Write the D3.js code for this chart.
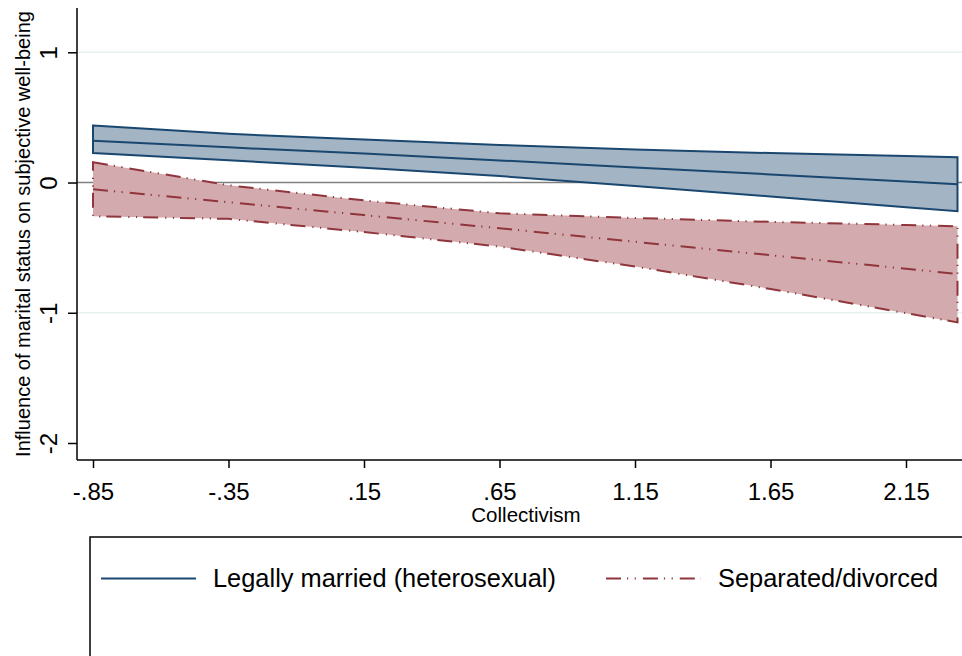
<!DOCTYPE html>
<html><head><meta charset="utf-8">
<script src="https://cdn.jsdelivr.net/npm/d3@7"></script>
<style>body{margin:0;background:#fff}svg{display:block;font-family:"Liberation Sans",Arial,sans-serif}</style>
</head><body>
<svg id="c" width="962" height="656"></svg>
<script>
// Collectivism values at which margins are read
const xs = [-0.85, -0.35, 0.15, 0.65, 1.15, 1.65, 2.15, 2.34];
// Legally married (heterosexual)
const marriedFit = [0.32, 0.27, 0.222, 0.17, 0.116, 0.062, 0.008, -0.013];
const marriedHi  = [0.438, 0.374, 0.331, 0.289, 0.254, 0.226, 0.203, 0.194];
const marriedLo  = [0.226, 0.171, 0.113, 0.05, -0.027, -0.107, -0.189, -0.22];
// Separated/divorced
const sepFit = [-0.052, -0.151, -0.25, -0.351, -0.455, -0.558, -0.662, -0.702];
const sepHi  = [0.156, -0.021, -0.137, -0.236, -0.272, -0.302, -0.326, -0.336];
const sepLo  = [-0.259, -0.279, -0.38, -0.492, -0.645, -0.817, -1.003, -1.074];

const xTicks = [-0.85, -0.35, 0.15, 0.65, 1.15, 1.65, 2.15];
const xTickLabels = ["-.85", "-.35", ".15", ".65", "1.15", "1.65", "2.15"];
const yTicks = [-2, -1, 0, 1];
const yTickLabels = ["-2", "-1", "0", "1"];
const seriesNames = ["Legally married (heterosexual)", "Separated/divorced"];

const svg = d3.select("#c");
const x = d3.scaleLinear().domain([-0.85, 2.15]).range([93, 906]);
const y = d3.scaleLinear().domain([-2, 1]).range([443, 52.3]);
const pLeft = 77, pBottom = 460, pTop = 8, pRight = 962;

const navy = "#1a476f", maroon = "#90353b";
const blueFill = "#a3b4c5", redFill = "#d3abae";
const dashDotDot = "15,6,1.2,6.5,1.2,7";

// gridlines
svg.append("g").selectAll("line").data([1, -1]).join("line")
  .attr("x1", pLeft).attr("x2", pRight).attr("y1", d => y(d)).attr("y2", d => y(d))
  .attr("stroke", "#e8f0f2").attr("stroke-width", 1.5);

// zero line
svg.append("line").attr("x1", pLeft).attr("x2", pRight).attr("y1", y(0)).attr("y2", y(0))
  .attr("stroke", "#808080").attr("stroke-width", 1.5);

function band(hi, lo) {
  const pts = xs.map((d, i) => [x(d), y(hi[i])]);
  const back = xs.map((d, i) => [x(d), y(lo[i])]).reverse();
  return d3.line()(pts.concat(back)) + "Z";
}
const line = (vals) => d3.line()(xs.map((d, i) => [x(d), y(vals[i])]));

// married band
svg.append("path").attr("d", band(marriedHi, marriedLo))
  .attr("fill", blueFill).attr("stroke", navy).attr("stroke-width", 2);
svg.append("path").attr("d", line(marriedFit)).attr("fill", "none")
  .attr("stroke", navy).attr("stroke-width", 2);

// separated band
svg.append("path").attr("d", band(sepHi, sepLo))
  .attr("fill", redFill).attr("stroke", maroon).attr("stroke-width", 2)
  .attr("stroke-dasharray", dashDotDot);
svg.append("path").attr("d", line(sepFit)).attr("fill", "none")
  .attr("stroke", maroon).attr("stroke-width", 2).attr("stroke-dasharray", dashDotDot);

// axes
svg.append("line").attr("x1", pLeft).attr("x2", pLeft).attr("y1", pTop).attr("y2", pBottom)
  .attr("stroke", "#000").attr("stroke-width", 1.5);
svg.append("line").attr("x1", pLeft).attr("x2", pRight).attr("y1", pBottom).attr("y2", pBottom)
  .attr("stroke", "#000").attr("stroke-width", 1.5);

const xa = svg.append("g").attr("transform", `translate(0,${pBottom})`)
  .call(d3.axisBottom(x).tickValues(xTicks).tickSize(8).tickFormat((d, i) => xTickLabels[i]));
xa.select(".domain").remove();
xa.selectAll(".tick line").attr("stroke", "#000").attr("stroke-width", 1.5);
xa.selectAll(".tick text").attr("font-size", 24).attr("font-family", "Liberation Sans, Arial")
  .attr("fill", "#000").attr("dy", null).attr("y", 39.5);

const ya = svg.append("g").attr("transform", `translate(${pLeft},0)`)
  .call(d3.axisLeft(y).tickValues(yTicks).tickSize(9).tickFormat((d, i) => yTickLabels[i]));
ya.select(".domain").remove();
ya.selectAll(".tick line").attr("stroke", "#000").attr("stroke-width", 1.5);
ya.selectAll(".tick text").attr("font-size", 24).attr("font-family", "Liberation Sans, Arial")
  .attr("fill", "#000").attr("x", null).attr("dy", null)
  .attr("text-anchor", "middle").attr("transform", "translate(-20,0) rotate(-90)");

// axis titles
svg.append("text").attr("x", 526).attr("y", 522).attr("text-anchor", "middle")
  .attr("font-size", 20.5).text("Collectivism");
svg.append("text").attr("transform", "translate(30,234) rotate(-90)").attr("text-anchor", "middle")
  .attr("font-size", 20).text("Influence of marital status on subjective well-being");

// legend
svg.append("rect").attr("x", 90).attr("y", 537).attr("width", 900).attr("height", 200)
  .attr("fill", "none").attr("stroke", "#000").attr("stroke-width", 1.5);
svg.append("line").attr("x1", 101).attr("x2", 196).attr("y1", 578.5).attr("y2", 578.5)
  .attr("stroke", navy).attr("stroke-width", 2);
svg.append("text").attr("x", 213).attr("y", 587).attr("font-size", 25.4).text(seriesNames[0]);
svg.append("line").attr("x1", 606).attr("x2", 701).attr("y1", 578.5).attr("y2", 578.5)
  .attr("stroke", maroon).attr("stroke-width", 2).attr("stroke-dasharray", dashDotDot);
svg.append("text").attr("x", 718).attr("y", 587).attr("font-size", 25.4).text(seriesNames[1]);
</script>
</body></html>
